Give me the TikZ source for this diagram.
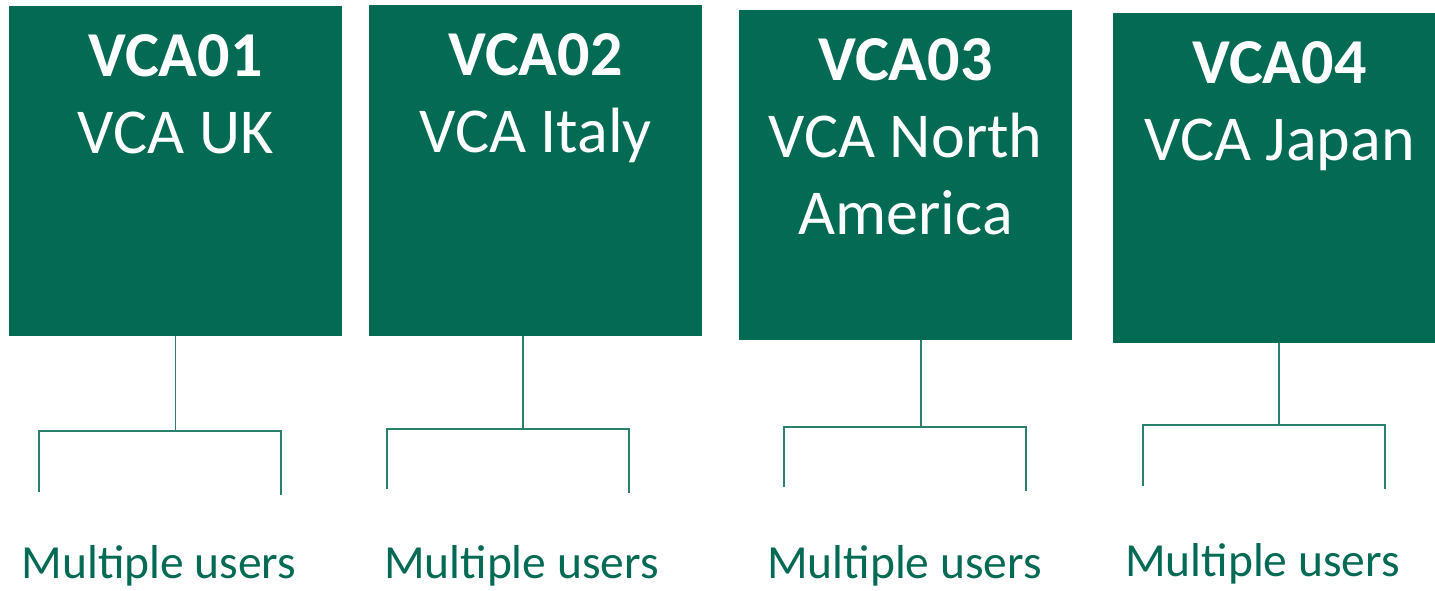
\documentclass[tikz,border=0pt]{standalone}
\usepackage{fontspec}
\setmainfont{Carlito}
\usetikzlibrary{calc}
\definecolor{vcagreen}{RGB}{3,106,83}
\begin{document}
\begin{tikzpicture}[x=1pt,y=-1pt,
  vcabox/.style={fill=vcagreen,draw=none,minimum width=333pt,inner sep=0pt},
  vcatext/.style={text=white,align=center,anchor=north,inner sep=0pt,font=\fontsize{64}{77}\selectfont},
  users/.style={text=vcagreen,anchor=base,inner sep=0pt,font=\fontsize{47.5}{57}\selectfont},
  conn/.style={draw=vcagreen!85!white,line width=1.6pt}]
\clip (0,0) rectangle (1435,590);
\fill[white] (0,0) rectangle (1435,590);
% boxes
\node[vcabox,minimum height=330pt] (b1) at (175.5,171) {};
\node[vcabox,minimum height=331pt] (b2) at (535.5,170.5) {};
\node[vcabox,minimum height=330pt] (b3) at (905.5,175) {};
\node[vcabox,minimum height=330pt] (b4) at (1279.5,178) {};
% box texts
\node[vcatext] (t1) at ($(b1.north)+(0,29)$) {\textbf{VCA01}\\VCA UK};
\node[vcatext] (t2) at ($(b2.north)+(0,29)$) {\textbf{VCA02}\\VCA Italy};
\node[vcatext] (t3) at ($(b3.north)+(0,29)$) {\textbf{VCA03}\\VCA North\\America};
\node[vcatext] (t4) at ($(b4.north)+(0,29)$) {\textbf{VCA04}\\VCA Japan};
% junctions and leg ends
\coordinate (j1) at (175.5,431);
\coordinate (l1) at (39,492);
\coordinate (r1) at (281,495);
\coordinate (j2) at (523,429);
\coordinate (l2) at (387,489);
\coordinate (r2) at (629,493);
\coordinate (j3) at (921,427);
\coordinate (l3) at (784,487);
\coordinate (r3) at (1026,491);
\coordinate (j4) at (1279,425);
\coordinate (l4) at (1143,486);
\coordinate (r4) at (1385,489);
% connectors
\draw[conn] (b1.south) -- (j1);
\draw[conn] (l1) |- (j1) -| (r1);
\draw[conn] (b2.south -| j2) -- (j2);
\draw[conn] (l2) |- (j2) -| (r2);
\draw[conn] (b3.south -| j3) -- (j3);
\draw[conn] (l3) |- (j3) -| (r3);
\draw[conn] (b4.south -| j4) -- (j4);
\draw[conn] (l4) |- (j4) -| (r4);
% users
\node[users] (u1) at (159,578.5) {Multiple users};
\node[users] (u2) at (521.5,578) {Multiple users};
\node[users] (u3) at (904.5,578.5) {Multiple users};
\node[users] (u4) at (1262.5,576) {Multiple users};
\end{tikzpicture}
\end{document}
